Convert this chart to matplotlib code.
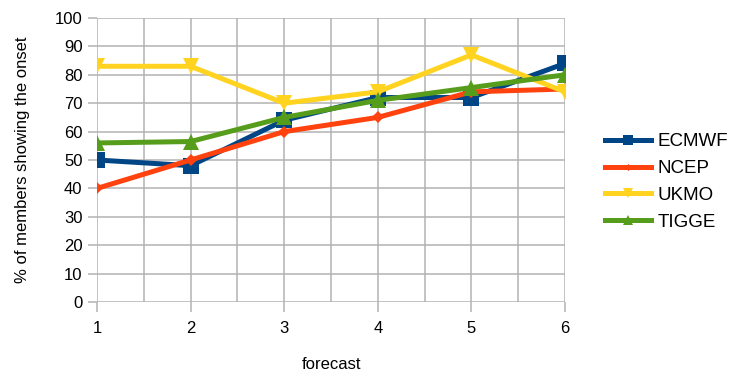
import matplotlib
matplotlib.use("Agg")
import matplotlib.pyplot as plt
import numpy as np

plt.rcParams['font.family'] = ['Liberation Sans', 'DejaVu Sans']

forecast = [1, 2, 3, 4, 5, 6]
ecmwf = [50, 48, 64, 72, 72, 84]
ncep = [40, 50, 60, 65, 74, 75]
ukmo = [83, 83, 70, 74, 87, 74]
tigge = [56, 56.5, 65, 71, 75.5, 80]

series = [
    ("ECMWF", ecmwf, "#004586", "s", 11),
    ("NCEP", ncep, "#ff420e", "D", 6),
    ("UKMO", ukmo, "#ffd320", "v", 12),
    ("TIGGE", tigge, "#579d1c", "^", 12),
]

fig = plt.figure(figsize=(7.32, 3.72), dpi=100)
ax = fig.add_axes([97 / 732, 1 - 302 / 372, (565 - 97) / 732, (302 - 18) / 372])

grid_c = "#b3b3b3"
for name, vals, col, mk, ms in series:
    ax.plot(forecast, vals, color=col, lw=3.6, marker=mk, ms=ms,
            markeredgewidth=0, label=name, zorder=3)

ax.set_xlim(1, 6)
ax.set_ylim(0, 100)
ax.set_xticks(forecast)
ax.set_xticks(np.arange(1.5, 6, 1.0), minor=True)
ax.set_yticks(np.arange(0, 101, 10))
ax.grid(True, which="both", axis="x", color=grid_c, lw=1.1, zorder=0)
ax.grid(True, which="major", axis="y", color=grid_c, lw=1.1, zorder=0)
ax.tick_params(axis="y", which="major", color=grid_c, length=6.5, width=1.1,
               labelsize=12, labelcolor="#000000", pad=4)
ax.tick_params(axis="x", which="major", color=grid_c, length=7, width=1.1,
               labelsize=12, labelcolor="#000000", pad=7)
ax.tick_params(axis="x", which="minor", length=0)
for s in ax.spines.values():
    s.set_visible(False)

ax.set_xlabel("forecast", fontsize=12, labelpad=15)
ax.set_ylabel("% of members showing the onset", fontsize=12, labelpad=18)

leg = fig.legend(loc="center left", bbox_to_anchor=(605 / 732, 1 - 182 / 372),
                 frameon=False, fontsize=13.5, handlelength=2.45, handletextpad=0.35,
                 labelspacing=0.52, markerscale=0.6, borderpad=0, borderaxespad=0)

fig.savefig("out.png", dpi=100)
